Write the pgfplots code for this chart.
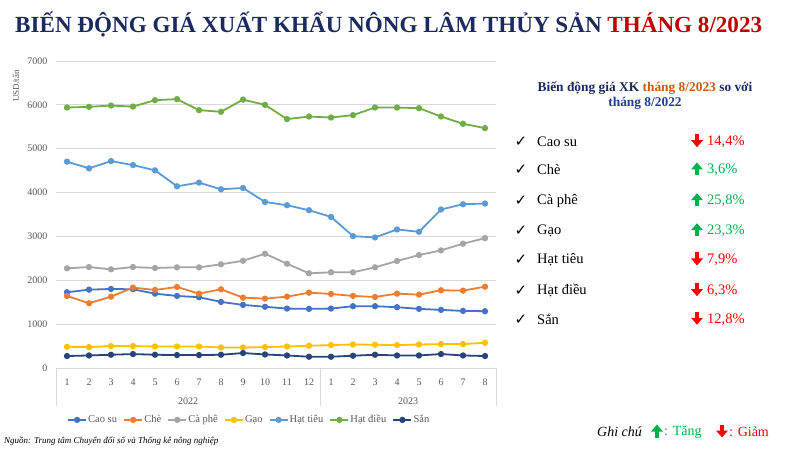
\documentclass[border=0pt]{standalone}
\usepackage{fontspec}
\setmainfont{Liberation Serif}
\newfontfamily\symfont{DejaVu Sans}
\usepackage{pgfplots}
\pgfplotsset{compat=1.18}
\usetikzlibrary{arrows.meta}

\definecolor{cCaosu}{HTML}{4472C4}
\definecolor{cChe}{HTML}{ED7D31}
\definecolor{cCaphe}{HTML}{A5A5A5}
\definecolor{cGao}{HTML}{FFC000}
\definecolor{cTieu}{HTML}{5B9BD5}
\definecolor{cDieu}{HTML}{70AD47}
\definecolor{cSan}{HTML}{264478}
\definecolor{navy}{HTML}{1B2A5E}
\definecolor{titlered}{HTML}{C00000}
\definecolor{orangetxt}{HTML}{C55A11}
\definecolor{bluetxt}{HTML}{1F3F8F}
\definecolor{upgreen}{HTML}{00B050}
\definecolor{downred}{HTML}{FF0000}
\definecolor{gridgray}{HTML}{D9D9D9}
\definecolor{tickgray}{HTML}{595959}

\tikzset{
  uparr/.pic={\draw[upgreen, line width=3.4pt, -{Triangle[width=11.5pt,length=7pt]}] (0,-5.5pt) -- (0,7.5pt);},
  downarr/.pic={\draw[downred, line width=3.4pt, -{Triangle[width=11.5pt,length=7pt]}] (0,7.5pt) -- (0,-5.5pt);}
}

\begin{document}
\begin{tikzpicture}
\path[use as bounding box, fill=white] (0pt,0pt) rectangle (800pt,450pt);

% title
\node[anchor=base west, inner sep=0pt, font=\fontsize{23.1}{26}\selectfont\bfseries] at (15pt,417pt)
  {\textcolor{navy}{BIẾN ĐỘNG GIÁ XUẤT KHẨU NÔNG LÂM THỦY SẢN} \textcolor{titlered}{THÁNG 8/2023}};

\begin{axis}[
  at={(56pt,82pt)}, anchor=south west,
  scale only axis, width=440pt, height=307pt,
  xmin=0.5, xmax=20.5, ymin=0, ymax=7000,
  xtick={1,2,...,20},
  xticklabels={1,2,3,4,5,6,7,8,9,10,11,12,1,2,3,4,5,6,7,8},
  ytick={0,1000,...,7000},
  axis line style={draw=none},
  ymajorgrids, grid style={gridgray, line width=0.8pt},
  major tick length=0pt,
  tick label style={font=\fontsize{10}{12}\selectfont, text=tickgray},
  /pgf/number format/assume math mode=true,
  /pgf/number format/1000 sep={},
  scaled y ticks=false,
  yticklabel style={xshift=-5pt},
  xticklabel style={yshift=-7pt},
  clip=false,
  every axis plot/.append style={line width=1.8pt, mark=*, mark size=2.2pt, mark options={solid}},
  legend columns=-1,
  legend style={draw=none, fill=none, at={(0.025,-0.169)}, anchor=west,
    font=\fontsize{10.5}{13}\selectfont, text=tickgray, inner sep=0pt,
    nodes={inner xsep=1.2pt},
    /tikz/every even column/.append style={column sep=5pt}},
  legend image code/.code={\draw[mark repeat=2,mark phase=2] plot coordinates {(0pt,0pt)(9pt,0pt)(18pt,0pt)};},
]
\addplot[cCaosu] coordinates {(1,1727)(2,1786)(3,1802)(4,1795)(5,1695)(6,1643)(7,1614)(8,1507)(9,1439)(10,1396)(11,1355)(12,1348)(13,1355)(14,1409)(15,1409)(16,1386)(17,1348)(18,1325)(19,1302)(20,1295)};
\addlegendentry{Cao su}
\addplot[cChe] coordinates {(1,1643)(2,1477)(3,1627)(4,1832)(5,1780)(6,1848)(7,1695)(8,1795)(9,1605)(10,1582)(11,1627)(12,1718)(13,1689)(14,1643)(15,1620)(16,1695)(17,1673)(18,1773)(19,1764)(20,1855)};
\addlegendentry{Chè}
\addplot[cCaphe] coordinates {(1,2273)(2,2302)(3,2250)(4,2302)(5,2280)(6,2295)(7,2295)(8,2364)(9,2445)(10,2605)(11,2377)(12,2159)(13,2182)(14,2182)(15,2295)(16,2439)(17,2575)(18,2682)(19,2834)(20,2961)};
\addlegendentry{Cà phê}
\addplot[cGao] coordinates {(1,484)(2,477)(3,500)(4,500)(5,491)(6,491)(7,491)(8,468)(9,468)(10,477)(11,491)(12,507)(13,523)(14,536)(15,530)(16,523)(17,536)(18,545)(19,545)(20,575)};
\addlegendentry{Gạo}
\addplot[cTieu] coordinates {(1,4705)(2,4552)(3,4718)(4,4627)(5,4507)(6,4143)(7,4227)(8,4075)(9,4105)(10,3786)(11,3711)(12,3598)(13,3445)(14,3007)(15,2977)(16,3159)(17,3105)(18,3614)(19,3734)(20,3750)};
\addlegendentry{Hạt tiêu}
\addplot[cDieu] coordinates {(1,5939)(2,5955)(3,5984)(4,5961)(5,6107)(6,6130)(7,5880)(8,5841)(9,6120)(10,6000)(11,5675)(12,5734)(13,5711)(14,5766)(15,5939)(16,5939)(17,5925)(18,5734)(19,5568)(20,5470)};
\addlegendentry{Hạt điều}
\addplot[cSan] coordinates {(1,273)(2,286)(3,302)(4,318)(5,302)(6,295)(7,295)(8,302)(9,341)(10,309)(11,286)(12,257)(13,257)(14,280)(15,302)(16,286)(17,286)(18,318)(19,286)(20,273)};
\addlegendentry{Sắn}

% category separators and year labels
\draw[gridgray, line width=0.8pt] (axis cs:0.5,0) -- ([yshift=-38pt]axis cs:0.5,0);
\draw[gridgray, line width=0.8pt] (axis cs:12.5,0) -- ([yshift=-38pt]axis cs:12.5,0);
\draw[gridgray, line width=0.8pt] (axis cs:20.5,0) -- ([yshift=-38pt]axis cs:20.5,0);
\node[font=\fontsize{10}{12}\selectfont, text=tickgray] at ([yshift=-33pt]axis cs:6.5,0) {2022};
\node[font=\fontsize{10}{12}\selectfont, text=tickgray] at ([yshift=-33pt]axis cs:16.5,0) {2023};
\end{axis}

% y label
\node[rotate=90, font=\fontsize{9}{11}\selectfont, text=tickgray] at (16pt,364pt) {USD/tấn};

% source
\node[anchor=west, inner sep=0pt, font=\fontsize{9}{11}\selectfont\itshape] at (4pt,9pt)
  {Nguồn: Trung tâm Chuyển đổi số và Thống kê nông nghiệp};

% right panel heading
\node[font=\fontsize{13.4}{15}\selectfont\bfseries, text=navy] at (645pt,362pt)
  {Biến động giá XK \textcolor{orangetxt}{tháng 8/2023} so với};
\node[font=\fontsize{13.4}{15}\selectfont\bfseries, text=bluetxt] at (645pt,347pt) {tháng 8/2022};

% list
\foreach \name/\dir/\yy in {Cao su/down/308.3, Chè/up/280, Cà phê/up/249.3,
    Gạo/up/219.3, Hạt tiêu/down/190, Hạt điều/down/159.3, Sắn/down/130.7} {
  \node[font=\fontsize{15}{17}\symfont] at (521pt,\yy pt) {✓};
  \node[anchor=west, inner sep=0pt, font=\fontsize{14.5}{17}\selectfont] at (537pt,\yy pt) {\name};
  \pic at (697pt,\yy pt) {\dir arr};
}
\foreach \val/\yy in {14{,}4\%/308.3, 7{,}9\%/190, 6{,}3\%/159.3, 12{,}8\%/130.7}
  \node[anchor=west, inner sep=0pt, font=\fontsize{14.5}{17}\selectfont, text=downred] at (707pt,\yy pt) {\val};
\foreach \val/\yy in {3{,}6\%/280, 25{,}8\%/249.3, 23{,}3\%/219.3}
  \node[anchor=west, inner sep=0pt, font=\fontsize{14.5}{17}\selectfont, text=upgreen] at (707pt,\yy pt) {\val};

% note
\node[anchor=west, inner sep=0pt, font=\fontsize{14}{16}\selectfont\itshape] at (597pt,18pt) {Ghi chú};
\pic at (657pt,18pt) {uparr};
\node[anchor=west, inner sep=0pt, font=\fontsize{14}{16}\selectfont, text=upgreen] at (664pt,18pt) {: Tăng};
\pic at (722pt,18pt) {downarr};
\node[anchor=west, inner sep=0pt, font=\fontsize{14}{16}\selectfont, text=downred] at (729pt,18pt) {: Giảm};
\end{tikzpicture}
\end{document}
